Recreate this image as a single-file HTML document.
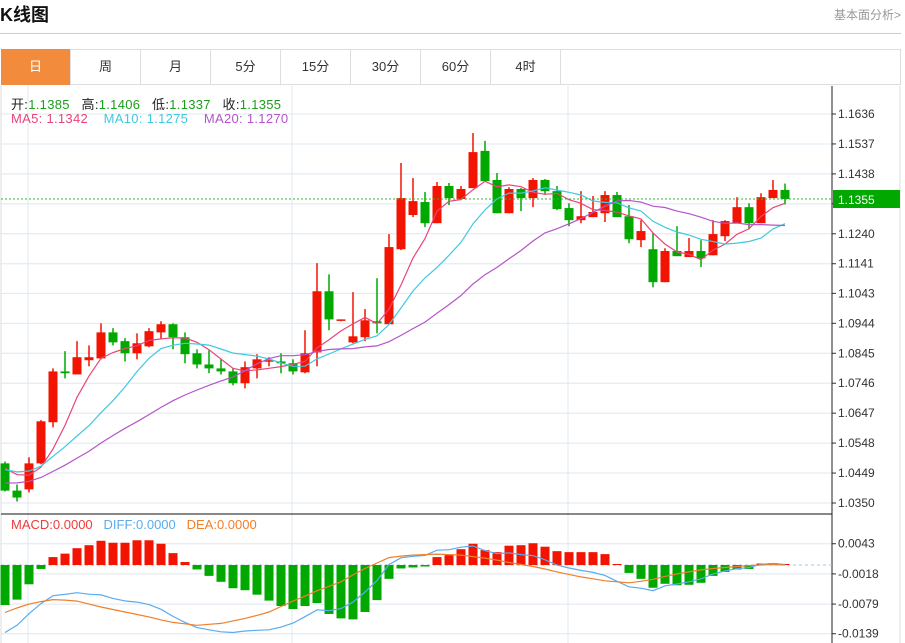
<!DOCTYPE html>
<html><head><meta charset="utf-8"><style>
body{margin:0;width:905px;height:643px;overflow:hidden;background:#fff;font-family:"Liberation Sans","Noto Sans CJK SC",sans-serif;position:relative}
.t{position:absolute;white-space:nowrap}
.tab{position:absolute;top:49px;height:36px;width:70px;line-height:36px;text-align:center;font-size:13px;color:#333;border-right:1px solid #ddd;box-sizing:border-box}
</style></head><body>
<div class="t" style="left:0;top:1px;font-size:18px;font-weight:bold;color:#111">K线图</div>
<div class="t" style="right:4px;top:6px;font-size:12px;color:#999">基本面分析&gt;</div>
<div style="position:absolute;left:0;top:33px;width:901px;height:1px;background:#ccc"></div>
<div style="position:absolute;left:1px;top:49px;width:900px;height:36px;border:1px solid #ddd;box-sizing:border-box"></div>
<div class="tab" style="left:1px;background:#f28c3c;color:#fff">日</div>
<div class="tab" style="left:71px">周</div>
<div class="tab" style="left:141px">月</div>
<div class="tab" style="left:211px">5分</div>
<div class="tab" style="left:281px">15分</div>
<div class="tab" style="left:351px">30分</div>
<div class="tab" style="left:421px">60分</div>
<div class="tab" style="left:491px">4时</div>
<svg id="c" width="905" height="643" style="position:absolute;left:0;top:0" font-family="Liberation Sans, Noto Sans CJK SC, sans-serif"></svg>
<script>
const priorCloses=[1.0360,1.0375,1.0368,1.0380,1.0372,1.0365,1.0378,1.0370,1.0381,1.0371,1.0440,1.0452,1.0460,1.0458,1.0464,1.0478,1.0486,1.0490,1.0482];
const opens=[1.0481,1.0391,1.0395,1.0481,1.0617,1.0785,1.0775,1.0822,1.0828,1.0914,1.0885,1.0845,1.0868,1.0914,1.0941,1.0898,1.0845,1.0808,1.0795,1.0785,1.0746,1.0795,1.0818,1.0818,1.0812,1.0782,1.0848,1.1050,1.0954,1.0881,1.0898,1.0951,1.0941,1.1189,1.1302,1.1345,1.1275,1.1398,1.1355,1.1391,1.1514,1.1418,1.1308,1.1388,1.1358,1.1418,1.1381,1.1325,1.1285,1.1295,1.1308,1.1368,1.1298,1.1219,1.1189,1.1080,1.1183,1.1163,1.1183,1.1169,1.1232,1.1275,1.1328,1.1275,1.1358,1.1385];
const highs=[1.0487,1.0411,1.0501,1.0624,1.0795,1.0852,1.0885,1.0871,1.0944,1.0928,1.0895,1.0911,1.0928,1.0951,1.0944,1.0914,1.0858,1.0855,1.0825,1.0795,1.0818,1.0842,1.0832,1.0845,1.0825,1.0921,1.1143,1.1106,1.0957,1.1047,1.0991,1.1093,1.1239,1.1474,1.1424,1.1378,1.1411,1.1408,1.1398,1.1573,1.1547,1.1441,1.1394,1.1391,1.1424,1.1421,1.1398,1.1341,1.1381,1.1365,1.1381,1.1378,1.1335,1.1285,1.1242,1.1192,1.1265,1.1226,1.1219,1.1285,1.1285,1.1361,1.1341,1.1374,1.1418,1.1406];
const lows=[1.0388,1.0355,1.0385,1.0478,1.0600,1.0762,1.0775,1.0802,1.0825,1.0871,1.0818,1.0825,1.0865,1.0891,1.0858,1.0812,1.0795,1.0779,1.0775,1.0739,1.0729,1.0762,1.0802,1.0779,1.0775,1.0779,1.0802,1.0921,1.0951,1.0878,1.0885,1.0911,1.0941,1.1186,1.1295,1.1262,1.1275,1.1335,1.1355,1.1391,1.1414,1.1308,1.1308,1.1315,1.1328,1.1371,1.1318,1.1265,1.1275,1.1295,1.1279,1.1295,1.1209,1.1196,1.1063,1.1080,1.1166,1.1163,1.1130,1.1169,1.1216,1.1275,1.1255,1.1275,1.1358,1.1337];
const closes=[1.0391,1.0368,1.0481,1.0620,1.0785,1.0779,1.0832,1.0832,1.0914,1.0881,1.0845,1.0878,1.0918,1.0941,1.0898,1.0842,1.0808,1.0795,1.0785,1.0746,1.0799,1.0825,1.0822,1.0812,1.0785,1.0845,1.1050,1.0957,1.0957,1.0901,1.0954,1.0944,1.1196,1.1358,1.1348,1.1275,1.1398,1.1358,1.1388,1.1510,1.1414,1.1308,1.1388,1.1358,1.1418,1.1381,1.1322,1.1285,1.1298,1.1312,1.1368,1.1295,1.1222,1.1249,1.1080,1.1183,1.1166,1.1183,1.1159,1.1239,1.1282,1.1328,1.1275,1.1361,1.1385,1.1355];
const macdVals=[-0.0081,-0.0070,-0.0039,-0.0008,0.0016,0.0023,0.0034,0.0040,0.0049,0.0045,0.0045,0.0050,0.0050,0.0043,0.0024,0.0006,-0.0009,-0.0022,-0.0034,-0.0047,-0.0051,-0.0060,-0.0072,-0.0083,-0.0089,-0.0083,-0.0077,-0.0099,-0.0108,-0.0110,-0.0095,-0.0071,-0.0028,-0.0007,-0.0005,-0.0003,0.0016,0.0020,0.0032,0.0043,0.0030,0.0026,0.0039,0.0040,0.0044,0.0037,0.0028,0.0026,0.0026,0.0026,0.0022,0.0002,-0.0016,-0.0028,-0.0046,-0.0038,-0.0041,-0.0040,-0.0036,-0.0022,-0.0014,-0.0009,-0.0008,0.0003,0.0004,0.0002];
const deaVals=[-0.0096,-0.0087,-0.0079,-0.0074,-0.0070,-0.0071,-0.0073,-0.0079,-0.0085,-0.0090,-0.0095,-0.0100,-0.0105,-0.0111,-0.0116,-0.0119,-0.0122,-0.0120,-0.0118,-0.0113,-0.0108,-0.0102,-0.0095,-0.0084,-0.0073,-0.0063,-0.0052,-0.0043,-0.0034,-0.0020,-0.0007,0.0004,0.0015,0.0018,0.0020,0.0021,0.0022,0.0021,0.0020,0.0017,0.0014,0.0010,0.0005,0.0001,-0.0003,-0.0008,-0.0014,-0.0019,-0.0024,-0.0028,-0.0032,-0.0034,-0.0036,-0.0033,-0.0029,-0.0023,-0.0018,-0.0014,-0.0010,-0.0007,-0.0005,-0.0003,-0.0001,0.0000,0.0001,0.0000];
const priceTicks=[1.1636,1.1537,1.1438,1.1339,1.1240,1.1141,1.1043,1.0944,1.0845,1.0746,1.0647,1.0548,1.0449,1.0350];
const macdTicks=[0.0043,-0.0018,-0.0079,-0.0139];
const lastPrice=1.1355;

const svg=document.getElementById('c');const NS='http://www.w3.org/2000/svg';
function mk(tag,at,parent){const e=document.createElementNS(NS,tag);for(const k in at)e.setAttribute(k,at[k]);(parent||svg).appendChild(e);return e;}
const xOf=i=>5+12*i;
const yP=p=>114+(1.1636-p)*(389/(1.1636-1.0350));
const yM=v=>565-v*(90/(0.0043+0.0139));
[28,292,568].forEach(x=>{const l=mk('line',{x1:x,x2:x,y1:86,y2:643,stroke:'#dde8f0'});});
priceTicks.forEach((t,i)=>{const y=yP(t);const l=mk('line',{x1:1,x2:832,y1:y,y2:y,stroke:'#dde8f0'});
 mk('line',{x1:832,x2:836,y1:y,y2:y,stroke:'#333'});
 const tx=mk('text',{x:838,y:y+4,'font-size':12,fill:'#333'});tx.textContent=t.toFixed(4);});
macdTicks.forEach(t=>{const y=yM(t);const l=mk('line',{x1:1,x2:832,y1:y,y2:y,stroke:'#dde8f0'});
 mk('line',{x1:832,x2:836,y1:y,y2:y,stroke:'#333'});
 const tx=mk('text',{x:838,y:y+4,'font-size':12,fill:'#333'});tx.textContent=t.toFixed(4);});
mk('line',{x1:1,x2:1,y1:86,y2:643,stroke:'#ddd'});
mk('line',{x1:900,x2:900,y1:86,y2:643,stroke:'#ddd'});
const ax=mk('line',{x1:832,x2:832,y1:86,y2:643,stroke:'#222'});
const sep=mk('line',{x1:1,x2:832,y1:514,y2:514,stroke:'#111'});
const RED='#f21300',GRN='#00a800';
closes.forEach((c,i)=>{const o=opens[i],up=c>=o,col=up?RED:GRN,x=xOf(i);
 const g=mk('g',{});
 mk('line',{x1:x,x2:x,y1:yP(highs[i]),y2:yP(lows[i]),stroke:col,'stroke-width':1.5},g);
 const t=yP(Math.max(o,c)),b=yP(Math.min(o,c));
 mk('rect',{x:x-4.5,y:t,width:9,height:Math.max(1.5,b-t),fill:col},g);});
const allCloses=priorCloses.concat(closes);const off=priorCloses.length;
function ma(n){return closes.map((_,i)=>{const j=i+off;const s=allCloses.slice(Math.max(0,j-n+1),j+1);return s.reduce((a,b)=>a+b,0)/s.length;});}
[[5,'#e8457a','ma5-line'],[10,'#40c8e0','ma10-line'],[20,'#b455c8','ma20-line']].forEach(([n,col,name])=>{
 const d=ma(n).map((v,i)=>(i?'L':'M')+xOf(i)+','+yP(v).toFixed(1)).join('');
 const p=mk('path',{d:d,fill:'none',stroke:col,'stroke-width':1.2});});
const ly=yP(lastPrice);
const lp=mk('line',{x1:1,x2:832,y1:ly,y2:ly,stroke:'#2db82d','stroke-dasharray':'2,2'});
const lb=mk('rect',{x:833,y:ly-9,width:67,height:18,fill:'#00a800'});
const lt=mk('text',{x:838,y:ly+5,'font-size':12,fill:'#fff'});lt.textContent=lastPrice.toFixed(4);
const z=yM(0);
mk('line',{x1:1,x2:832,y1:z,y2:z,stroke:'#9cc8e8','stroke-dasharray':'3,3'});
macdVals.forEach((v,i)=>{const y=yM(v);const r=mk('rect',{x:xOf(i)-4.5,y:Math.min(y,z),width:9,height:Math.max(1,Math.abs(y-z)),fill:v>=0?RED:GRN});
 });
const diffVals=deaVals.map((d,i)=>d+macdVals[i]/2);
[[diffVals,'#5aabf0','diff-line'],[deaVals,'#f07f2a','dea-line']].forEach(([arr,col,name])=>{
 const d=arr.map((v,i)=>(i?'L':'M')+xOf(i)+','+yM(v).toFixed(1)).join('');
 const p=mk('path',{d:d,fill:'none',stroke:col,'stroke-width':1.2});});
</script>
<div class="t" style="left:11px;top:94px;font-size:13px;color:#222;letter-spacing:0.3px">开:<span style="color:#1a9e1a">1.1385</span>&nbsp;&nbsp;&nbsp;高:<span style="color:#1a9e1a">1.1406</span>&nbsp;&nbsp;&nbsp;低:<span style="color:#1a9e1a">1.1337</span>&nbsp;&nbsp;&nbsp;收:<span style="color:#1a9e1a">1.1355</span></div>
<div class="t" style="left:11px;top:111px;font-size:13px;letter-spacing:0.3px"><span style="color:#e8457a">MA5: 1.1342</span>&nbsp;&nbsp;&nbsp;&nbsp;<span style="color:#40c8e0">MA10: 1.1275</span>&nbsp;&nbsp;&nbsp;&nbsp;<span style="color:#b455c8">MA20: 1.1270</span></div>
<div class="t" style="left:11px;top:517px;font-size:13px"><span style="color:#ee3b3b">MACD:0.0000</span>&nbsp;&nbsp;&nbsp;<span style="color:#5aabf0">DIFF:0.0000</span>&nbsp;&nbsp;&nbsp;<span style="color:#f07f2a">DEA:0.0000</span></div>
</body></html>
